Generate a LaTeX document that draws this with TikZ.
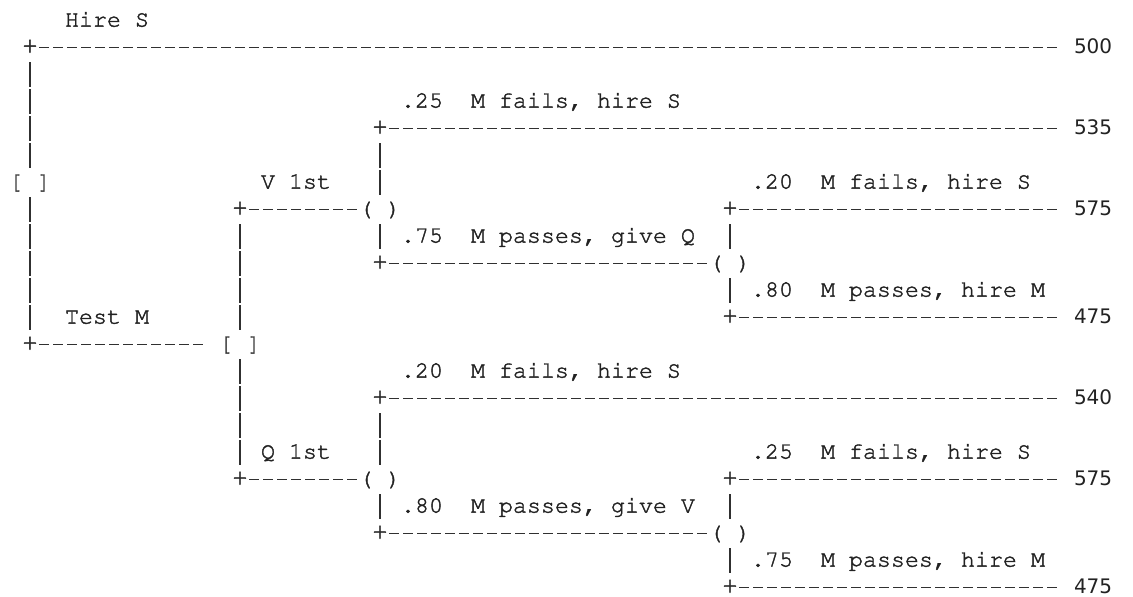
\documentclass[tikz,border=0pt]{standalone}
\usepackage[T1]{fontenc}
\usepackage{fontspec}
\usetikzlibrary{calc}
\newfontfamily\numfont{DejaVu Sans}
\newcommand\courfont{\fontencoding{T1}\fontfamily{pcr}\fontseries{m}\fontshape{n}\fontsize{23.33}{28}\selectfont\frenchspacing}
\newcommand\courbig{\fontencoding{T1}\fontfamily{pcr}\fontseries{m}\fontshape{n}\fontsize{26.5}{30}\selectfont}
\newcommand\heavy[1]{\special{pdf:literal direct 2 Tr 0.38 w}#1\special{pdf:literal direct 0 Tr}}
\definecolor{ink}{HTML}{222222}
\definecolor{rulec}{HTML}{303030}
\tikzset{
  txt/.style={inner sep=0pt, outer sep=0pt, anchor=base west, text=ink, font=\courfont},
  plus/.style={inner sep=0pt, outer sep=0pt, anchor=base, text=ink, font=\courfont},
  corner/.style={inner sep=0pt, outer sep=0pt, anchor=base, text=ink, font=\courbig},
  num/.style={inner sep=0pt, outer sep=0pt, anchor=base west, text=ink, font=\numfont\fontsize{20}{24}\selectfont},
  hd/.style={draw=rulec, line width=1.3pt, dash pattern=on 9.2pt off 4.8pt},
  vd/.style={draw=rulec, line width=1.3pt, dash pattern=on 24.5pt off 2.5pt},
}
\begin{document}
\begin{tikzpicture}[x=14pt,y=-27pt]
\useasboundingbox[fill=white] (-1.142857,-0.985185) rectangle (79.785714,21.125926);
% ---- labels
\node[txt] (hireS) at (3.5,0) {\heavy{Hire S}};
\node[txt] (t1) at (27.5,3) {\heavy{.25~~M fails, hire S}};
\node[txt] (v1) at (17.5,6) {\heavy{V 1st}};
\node[txt] (t2) at (52.5,6) {\heavy{.20~~M fails, hire S}};
\node[txt] (t3) at (27.5,8) {\heavy{.75~~M passes, give Q}};
\node[txt] (t4) at (52.5,10) {\heavy{.80~~M passes, hire M}};
\node[txt] (testM) at (3.5,11) {\heavy{Test M}};
\node[txt] (t5) at (27.5,13) {\heavy{.20~~M fails, hire S}};
\node[txt] (q1) at (17.5,16) {\heavy{Q 1st}};
\node[txt] (t6) at (52.5,16) {\heavy{.25~~M fails, hire S}};
\node[txt] (t7) at (27.5,18) {\heavy{.80~~M passes, give V}};
\node[txt] (t8) at (52.5,20) {\heavy{.75~~M passes, hire M}};
% ---- decision and chance nodes
\node[plus] (dec1) at (1,6) {\heavy{[~]}};
\node[plus] (dec2) at (16,12) {\heavy{[~]}};
\node[plus] (chA) at (26,7) {\heavy{(~)}};
\node[plus] (chB) at (51,9) {\heavy{(~)}};
\node[plus] (chC) at (26,17) {\heavy{(~)}};
\node[plus] (chD) at (51,19) {\heavy{(~)}};
% ---- corners
\node[corner] (p1) at (1,1) {\heavy{+}};
\node[corner] (p4) at (26,4) {\heavy{+}};
\node[corner] (p7a) at (16,7) {\heavy{+}};
\node[corner] (p7b) at (51,7) {\heavy{+}};
\node[corner] (p9) at (26,9) {\heavy{+}};
\node[corner] (p11) at (51,11) {\heavy{+}};
\node[corner] (p12) at (1,12) {\heavy{+}};
\node[corner] (p14) at (26,14) {\heavy{+}};
\node[corner] (p17a) at (16,17) {\heavy{+}};
\node[corner] (p17b) at (51,17) {\heavy{+}};
\node[corner] (p19) at (26,19) {\heavy{+}};
\node[corner] (p21) at (51,21) {\heavy{+}};
% ---- payoffs
\node[num,xshift=1pt] (n500) at (75.5,1) {500};
\node[num,xshift=1pt] (n535) at (75.5,4) {535};
\node[num,xshift=1pt] (n575a) at (75.5,7) {575};
\node[num,xshift=1pt] (n475a) at (75.5,11) {475};
\node[num,xshift=1pt] (n540) at (75.5,14) {540};
\node[num,xshift=1pt] (n575b) at (75.5,17) {575};
\node[num,xshift=1pt] (n475b) at (75.5,21) {475};
% ---- horizontal connectors
\draw[hd] ($(p1.base)+(9.4pt,6.1pt)$) -- ($(n500.base west)+(-17.4pt,6.1pt)$);
\draw[hd] ($(p4.base)+(9.4pt,6.1pt)$) -- ($(n535.base west)+(-17.4pt,6.1pt)$);
\draw[hd] ($(p7b.base)+(9.4pt,6.1pt)$) -- ($(n575a.base west)+(-17.4pt,6.1pt)$);
\draw[hd] ($(p11.base)+(9.4pt,6.1pt)$) -- ($(n475a.base west)+(-17.4pt,6.1pt)$);
\draw[hd] ($(p14.base)+(9.4pt,6.1pt)$) -- ($(n540.base west)+(-17.4pt,6.1pt)$);
\draw[hd] ($(p17b.base)+(9.4pt,6.1pt)$) -- ($(n575b.base west)+(-17.4pt,6.1pt)$);
\draw[hd] ($(p21.base)+(9.4pt,6.1pt)$) -- ($(n475b.base west)+(-17.4pt,6.1pt)$);
\draw[hd] ($(p7a.base)+(9.4pt,6.1pt)$) -- ($(chA.base west)+(-2.4pt,6.1pt)$);
\draw[hd] ($(p9.base)+(9.4pt,6.1pt)$) -- ($(chB.base west)+(-2.4pt,6.1pt)$);
\draw[hd] ($(p17a.base)+(9.4pt,6.1pt)$) -- ($(chC.base west)+(-2.4pt,6.1pt)$);
\draw[hd] ($(p19.base)+(9.4pt,6.1pt)$) -- ($(chD.base west)+(-2.4pt,6.1pt)$);
\draw[hd] ($(p12.base)+(9.4pt,6.1pt)$) -- ($(dec2.base west)+(-16.4pt,6.1pt)$);
% ---- vertical connectors
\draw[vd] ($(p1.base)+(0,-8.45pt)$) -- ($(dec1.base)+(0,21.05pt)$);
\draw[vd] ($(dec1.base)+(0,-8.45pt)$) -- ($(p12.base)+(0,21.05pt)$);
\draw[vd] ($(p7a.base)+(0,-8.45pt)$) -- ($(dec2.base)+(0,21.05pt)$);
\draw[vd] ($(dec2.base)+(0,-8.45pt)$) -- ($(p17a.base)+(0,21.05pt)$);
\draw[vd] ($(p4.base)+(0,-8.45pt)$) -- ($(chA.base)+(0,21.05pt)$);
\draw[vd] ($(chA.base)+(0,-8.45pt)$) -- ($(p9.base)+(0,21.05pt)$);
\draw[vd] ($(p7b.base)+(0,-8.45pt)$) -- ($(chB.base)+(0,21.05pt)$);
\draw[vd] ($(chB.base)+(0,-8.45pt)$) -- ($(p11.base)+(0,21.05pt)$);
\draw[vd] ($(p14.base)+(0,-8.45pt)$) -- ($(chC.base)+(0,21.05pt)$);
\draw[vd] ($(chC.base)+(0,-8.45pt)$) -- ($(p19.base)+(0,21.05pt)$);
\draw[vd] ($(p17b.base)+(0,-8.45pt)$) -- ($(chD.base)+(0,21.05pt)$);
\draw[vd] ($(chD.base)+(0,-8.45pt)$) -- ($(p21.base)+(0,21.05pt)$);
\end{tikzpicture}
\end{document}
